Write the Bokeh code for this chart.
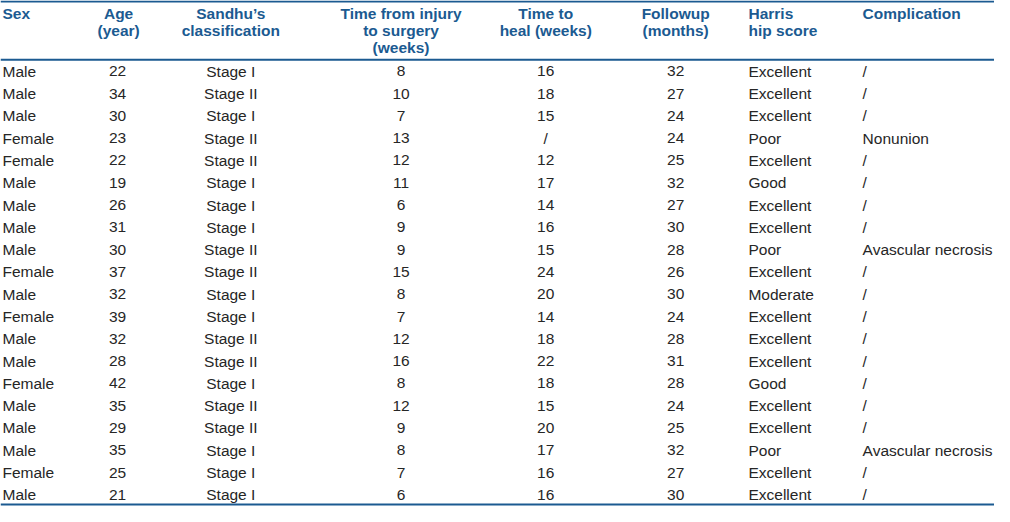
from bokeh.plotting import figure
from bokeh.models import ColumnDataSource, Range1d
from bokeh.core.properties import value
from bokeh.embed import file_html
from bokeh.resources import INLINE

headers = ["Sex", "Age\n(year)", "Sandhu\u2019s\nclassification", "Time from injury\nto surgery\n(weeks)",
           "Time to\nheal (weeks)", "Followup\n(months)", "Harris\nhip score", "Complication"]
sex = ["Male", "Male", "Male", "Female", "Female", "Male", "Male", "Male", "Male", "Female",
       "Male", "Female", "Male", "Male", "Female", "Male", "Male", "Male", "Female", "Male"]
age = [22, 34, 30, 23, 22, 19, 26, 31, 30, 37, 32, 39, 32, 28, 42, 35, 29, 35, 25, 21]
stage = ["Stage I", "Stage II", "Stage I", "Stage II", "Stage II", "Stage I", "Stage I", "Stage I",
         "Stage II", "Stage II", "Stage I", "Stage I", "Stage II", "Stage II", "Stage I", "Stage II",
         "Stage II", "Stage I", "Stage I", "Stage I"]
injury_to_surgery = [8, 10, 7, 13, 12, 11, 6, 9, 9, 15, 8, 7, 12, 16, 8, 12, 9, 8, 7, 6]
time_to_heal = ["16", "18", "15", "/", "12", "17", "14", "16", "15", "24",
                "20", "14", "18", "22", "18", "15", "20", "17", "16", "16"]
followup = [32, 27, 24, 24, 25, 32, 27, 30, 28, 26, 30, 24, 28, 31, 28, 24, 25, 32, 27, 30]
harris = ["Excellent", "Excellent", "Excellent", "Poor", "Excellent", "Good", "Excellent", "Excellent",
          "Poor", "Excellent", "Moderate", "Excellent", "Excellent", "Excellent", "Good", "Excellent",
          "Excellent", "Poor", "Excellent", "Excellent"]
complication = ["/", "/", "/", "Nonunion", "/", "/", "/", "/", "Avascular necrosis", "/",
                "/", "/", "/", "/", "/", "/", "/", "Avascular necrosis", "/", "/"]

columns = [sex, age, stage, injury_to_surgery, time_to_heal, followup, harris, complication]

# layout (reference pixel space)
col_x = [2, 119, 234, 407, 554, 686, 760, 876]
col_align = ["left", "center", "center", "center", "center", "center", "left", "left"]
head_x = [2, 120, 234, 407, 554, 686, 760, 876]
row_y0, row_h = 73, 23
head_y0, head_h = 13, 17.5

W, H = 1010, 522
p = figure(width=994, height=506, output_backend="svg", toolbar_location=None,
           x_range=Range1d(0, W), y_range=Range1d(H, 0), min_border=0)
p.axis.visible = False
p.grid.visible = False
p.outline_line_color = None
p.background_fill_color = "white"

blue = "#1b5a91"
ink = "#262626"

# header
hx, hy, ht, ha = [], [], [], []
for i, h in enumerate(headers):
    for j, line in enumerate(h.split("\n")):
        hx.append(head_x[i]); hy.append(head_y0 + j * head_h); ht.append(line); ha.append(col_align[i])
hsrc = ColumnDataSource(dict(x=hx, y=hy, t=ht, a=ha))
p.text("x", "y", text="t", source=hsrc, text_align="a", text_baseline="middle",
       text_font=value("Liberation Sans"), text_font_style="bold", text_font_size="15.5px",
       text_color=blue)

# body
bx, by, bt, ba = [], [], [], []
for c, col in enumerate(columns):
    for r, v in enumerate(col):
        bx.append(col_x[c]); by.append(row_y0 + r * row_h); bt.append(str(v)); ba.append(col_align[c])
bsrc = ColumnDataSource(dict(x=bx, y=by, t=bt, a=ba))
p.text("x", "y", text="t", source=bsrc, text_align="a", text_baseline="middle",
       text_font=value("Liberation Sans"), text_font_size="15.5px", text_color=ink)

# rules
p.segment(x0=[0, 0, 0], y0=[1, 61, 520], x1=[W, W, W], y1=[1, 61, 520],
          line_color=blue, line_width=2)

open("out.html", "w").write(file_html(p, INLINE))
